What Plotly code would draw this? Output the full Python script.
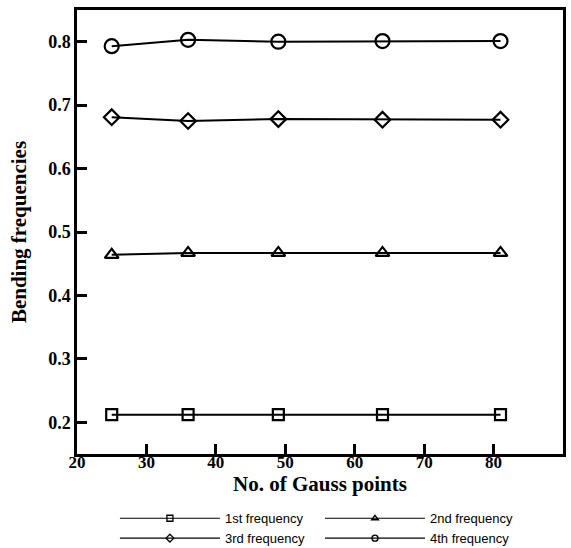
import plotly.graph_objects as go

# Number of Gauss points used in the integration
gauss_points = [25, 36, 49, 64, 81]

# Non-dimensional bending frequencies for the first four modes
freq_1st = [0.212, 0.212, 0.212, 0.212, 0.212]
freq_2nd = [0.464, 0.467, 0.467, 0.467, 0.467]
freq_3rd = [0.681, 0.675, 0.678, 0.677, 0.677]
freq_4th = [0.793, 0.803, 0.800, 0.801, 0.801]

# name, values, marker symbol, plot marker size, legend column
series = [
    ("1st frequency", freq_1st, "square-open", 11, "legend"),
    ("2nd frequency", freq_2nd, "triangle-up-open", 12, "legend2"),
    ("3rd frequency", freq_3rd, "diamond-open", 12, "legend"),
    ("4th frequency", freq_4th, "circle-open", 14, "legend2"),
]

fig = go.Figure()
for name, values, symbol, size, leg in series:
    fig.add_trace(go.Scatter(
        x=gauss_points, y=values, name=name, mode="lines+markers",
        line=dict(color="black", width=2),
        marker=dict(symbol=symbol, size=size, color="black",
                    line=dict(color="black", width=2.2)),
        showlegend=False,
    ))
    # legend key with a thin line and a small marker
    fig.add_trace(go.Scatter(
        x=[None], y=[None], name=name, mode="lines+markers", legend=leg,
        line=dict(color="black", width=1.2),
        marker=dict(symbol=symbol, size=6, color="black",
                    line=dict(color="black", width=1.3)),
    ))

serif_bold = dict(family="Liberation Serif", color="black")
legend_common = dict(
    orientation="v", yanchor="top", xanchor="left",
    font=dict(family="Liberation Sans", size=13, color="black"),
    itemwidth=100, tracegroupgap=0, bgcolor="rgba(0,0,0,0)",
)

fig.update_layout(
    width=571, height=548,
    margin=dict(l=77, r=8, t=10, b=94, autoexpand=False),
    paper_bgcolor="white", plot_bgcolor="white",
    showlegend=True,
    legend=dict(x=0.078, y=-0.111, **legend_common),
    legend2=dict(x=0.50, y=-0.111, **legend_common),
)

fig.update_xaxes(
    range=[20, 90], dtick=10, tick0=20,
    showline=True, mirror=True, linecolor="black", linewidth=2.5,
    ticks="inside", ticklen=10, tickwidth=2.5, tickcolor="black",
    showgrid=False, zeroline=False,
    tickfont=dict(size=17, **serif_bold),
    tickprefix="<b>", ticksuffix="</b>",
    ticklabelstandoff=-9,
    title=dict(text="<b>No. of Gauss points</b>", font=dict(size=21, **serif_bold), standoff=0),
)
fig.update_yaxes(
    range=[0.15, 0.85], dtick=0.1, tick0=0.2, tickformat=".1f",
    showline=True, mirror=True, linecolor="black", linewidth=2.5,
    ticks="inside", ticklen=10, tickwidth=2.5, tickcolor="black",
    showgrid=False, zeroline=False,
    tickfont=dict(size=18, **serif_bold),
    tickprefix="<b>", ticksuffix="</b>",
    title=dict(text="<b>Bending frequencies</b>", font=dict(size=21, **serif_bold), standoff=16),
)

fig.write_html("out.html")
